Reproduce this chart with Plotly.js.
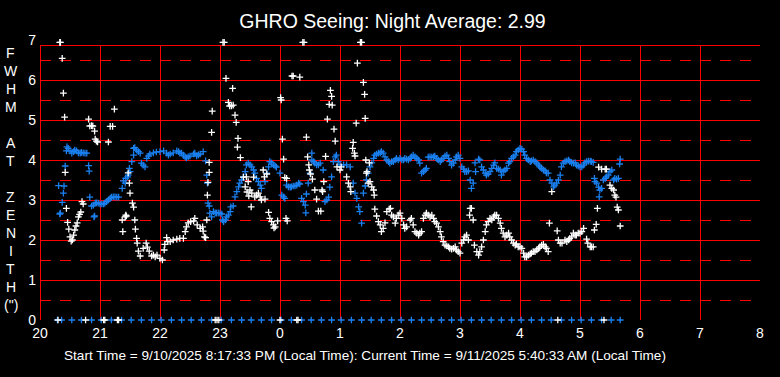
<!DOCTYPE html>
<html>
<head>
<meta charset="utf-8">
<script src="https://cdn.plot.ly/plotly-3.0.1.min.js"></script>
<style>html,body{margin:0;padding:0;background:#000;}#chart{width:780px;height:377px;}
#chart .shapelayer path{shape-rendering:crispEdges;}</style>
</head>
<body>
<div id="chart"></div>
<script>
// Hours since midnight of start day (24+ = next morning)
const hourTicks = [20,21,22,23,24,25,26,27,28,29,30,31,32];
const hourLabels = ['20','21','22','23','0','1','2','3','4','5','6','7','8'];
const yTicks = [0,1,2,3,4,5,6,7];

// White series (FWHM samples)
const whiteTime = [
20.30,20.76,21.06,21.08,21.29,21.31,22.92,22.95,22.98,24.00,24.28,24.30,28.63,29.40,
20.33,20.34,23.05,23.07,24.38,24.40,25.34,25.36,
20.37,20.39,20.41,20.42,20.44,20.46,20.48,20.50,20.52,20.54,20.56,20.58,20.60,20.62,20.64,20.66,20.68,20.70,20.72,
20.81,20.83,20.86,20.88,20.91,20.92,20.94,20.96,21.14,21.17,21.21,21.24,
21.37,21.38,21.42,21.43,21.44,21.47,21.49,21.50,21.54,21.56,21.58,21.59,21.61,21.62,21.64,21.67,
21.72,21.77,21.79,21.82,21.86,21.89,21.92,21.95,22.00,22.04,22.07,22.08,22.11,22.13,22.17,22.22,22.28,22.33,22.39,
22.42,22.44,22.47,22.51,22.56,22.58,22.62,22.67,22.71,22.72,22.74,22.76,22.78,22.79,22.80,22.82,22.82,22.86,22.87,
23.10,23.14,23.16,23.19,23.21,23.22,23.25,23.27,23.29,23.30,23.34,23.39,23.42,23.44,23.45,23.47,23.48,23.50,23.52,23.53,
23.56,23.58,23.61,23.64,23.67,23.69,23.72,23.74,23.75,23.78,23.81,23.83,23.86,23.89,23.90,23.92,23.96,
24.01,24.02,24.04,24.06,24.08,24.10,24.12,24.11,24.20,24.22,24.33,24.44,24.46,24.48,24.49,24.51,24.54,24.58,24.61,24.64,24.68,
24.73,24.70,24.71,24.76,24.79,24.82,24.84,24.86,24.87,24.90,24.92,24.95,25.00,25.02,25.11,25.14,25.17,25.18,
25.21,25.22,25.24,25.25,25.27,25.29,25.39,25.41,25.42,25.43,25.44,25.45,25.47,25.49,25.50,25.53,25.56,25.57,25.58,25.61,25.64,25.67,
25.69,25.72,25.75,25.78,25.82,25.84,25.86,25.89,25.92,25.94,25.97,26.00,26.03,26.06,26.08,26.11,26.17,26.19,26.22,
26.25,26.28,26.31,26.33,26.36,26.39,26.42,26.44,26.47,26.50,26.53,26.56,26.58,26.61,26.64,26.67,26.69,26.72,26.75,26.78,
26.81,26.83,26.86,26.89,26.92,26.94,26.97,27.00,27.03,27.06,27.08,27.11,27.14,27.17,27.19,27.16,27.22,27.24,
27.28,27.31,27.33,27.36,27.39,27.42,27.44,27.47,27.50,27.53,27.56,27.58,27.61,27.64,27.67,27.69,27.72,27.75,27.78,27.81,27.83,27.86,
27.89,27.92,27.94,27.97,28.00,28.03,28.06,28.08,28.11,28.14,28.17,28.19,28.22,28.25,28.28,28.31,28.33,28.36,28.39,28.42,28.44,28.47,
28.49,28.53,28.62,28.64,28.67,28.70,28.75,28.78,28.81,28.83,28.86,28.89,28.92,28.94,28.97,29.00,29.03,29.06,
29.11,29.13,29.17,29.19,29.22,29.24,29.27,29.29,29.31,29.36,29.42,29.44,29.50,29.53,29.56,29.58,29.60,29.62,29.64,29.67
];
const whiteFwhm = [
0,0,0,0,0,0,0,0,0,0,0,0,0,0,
6.94,6.94,6.94,6.94,6.94,6.94,6.94,6.94,
6.54,5.67,5.07,3.69,2.79,2.44,2.27,2.08,1.97,2.00,2.12,2.25,2.35,2.43,2.58,2.64,2.70,2.96,2.90,
5.02,4.85,4.86,4.85,4.72,4.52,4.47,4.45,4.45,4.84,4.84,5.27,
2.50,2.21,2.58,2.62,2.60,3.68,3.42,3.17,2.92,2.82,2.50,2.27,2.04,1.92,1.72,1.60,
1.79,1.92,1.82,1.72,1.60,1.62,1.58,1.62,1.54,1.50,1.75,1.89,2.06,1.96,1.96,2.00,2.02,2.04,2.04,
2.21,2.33,2.43,2.46,2.48,2.54,2.38,2.29,2.33,2.22,2.08,2.06,2.50,3.12,3.44,3.69,3.94,4.69,5.22,
6.04,5.44,5.35,5.35,5.79,5.37,5.12,4.94,4.32,4.54,4.06,3.57,3.33,3.58,3.20,3.46,3.10,3.25,2.83,3.17,
3.57,3.08,3.12,3.17,3.08,3.00,3.75,3.58,3.02,3.65,2.69,2.54,2.46,2.38,2.30,2.33,2.48,
5.56,5.50,4.52,4.02,3.56,2.54,2.48,3.54,6.10,6.10,6.07,4.57,4.08,3.88,3.75,3.65,3.52,3.25,3.02,2.72,2.72,
3.46,3.25,3.21,4.09,5.02,5.39,5.74,5.59,5.37,4.77,4.47,3.83,3.75,3.83,3.58,3.42,3.33,3.21,
4.29,4.44,4.17,4.10,4.92,6.42,5.94,5.64,5.04,4.00,3.67,3.71,3.42,3.93,3.46,3.33,3.25,3.12,2.77,2.60,2.46,2.38,
2.21,2.29,2.43,2.71,2.77,2.79,2.62,2.58,2.42,2.54,2.62,2.67,2.54,2.38,2.29,2.33,2.50,2.54,2.38,
2.21,2.17,2.12,2.17,2.21,2.54,2.62,2.67,2.62,2.58,2.62,2.54,2.46,2.42,2.33,2.21,2.08,1.96,1.87,1.85,
1.83,1.79,1.77,1.79,1.83,1.75,1.71,1.67,1.92,2.00,2.08,2.12,2.00,2.79,2.79,2.62,2.50,1.87,
1.71,1.62,1.71,1.83,2.00,2.21,2.38,2.46,2.54,2.50,2.58,2.62,2.62,2.54,2.42,2.29,2.17,2.08,2.12,2.17,2.08,2.00,
1.92,1.87,1.90,1.83,1.83,1.79,1.67,1.58,1.58,1.62,1.65,1.67,1.71,1.71,1.75,1.79,1.83,1.87,1.89,1.83,1.79,1.71,
2.42,3.21,2.23,2.00,1.92,1.92,2.00,1.96,2.00,2.04,2.08,2.17,2.12,2.12,2.17,2.17,2.21,2.29,
2.02,1.92,1.83,1.83,1.83,2.25,2.39,2.79,3.82,3.77,3.77,3.77,3.37,3.29,3.25,3.12,3.07,2.82,2.75,2.35
];

// Blue series (FWHM samples)
const blueTime = [
20.29,20.36,20.53,20.69,20.86,21.02,21.19,21.36,21.52,21.69,21.86,22.02,22.19,22.36,22.52,22.69,22.86,23.02,23.19,23.36,
23.52,23.69,23.86,24.02,24.19,24.36,24.52,24.69,24.86,25.02,25.19,25.36,25.52,25.69,25.86,26.02,26.19,26.36,26.52,26.69,
26.86,27.02,27.19,27.36,27.52,27.69,27.86,28.02,28.19,28.36,28.52,28.69,28.86,29.02,29.19,29.36,29.52,29.67,
20.31,20.33,20.34,20.37,20.39,20.40,20.42,20.44,20.45,20.47,20.50,20.53,20.56,20.58,20.61,20.64,20.67,20.69,20.72,20.75,20.78,
20.81,20.82,20.83,20.86,20.89,20.90,20.91,20.92,20.94,20.97,21.00,21.03,21.06,21.08,21.11,21.14,21.17,21.19,21.22,21.25,21.28,21.31,
21.37,21.39,21.42,21.43,21.46,21.47,21.50,21.49,21.53,21.56,21.56,21.58,21.61,21.64,21.67,21.69,21.72,21.75,
21.78,21.81,21.83,21.89,21.94,22.00,22.06,22.11,22.14,22.17,22.22,22.28,22.31,22.33,22.36,22.39,22.42,22.44,22.47,22.50,22.56,22.58,22.61,22.64,22.67,22.72,
22.76,22.78,22.79,22.80,22.82,22.83,22.86,22.89,22.92,22.94,22.97,23.00,23.03,23.04,23.06,23.09,23.11,23.14,23.17,23.18,
23.22,23.25,23.28,23.31,23.33,23.36,23.39,23.42,23.44,23.47,23.50,23.53,23.56,23.58,23.61,23.64,23.67,23.69,
23.75,23.78,23.81,23.83,23.86,23.89,23.92,23.94,24.00,24.03,24.06,24.08,24.11,24.14,24.17,24.19,24.22,24.25,24.28,24.31,24.33,
24.36,24.39,24.42,24.43,24.44,24.47,24.50,24.53,24.53,24.56,24.58,24.61,24.64,24.67,24.72,24.75,24.78,24.81,24.83,24.86,24.89,24.92,24.94,24.97,
25.00,25.06,25.11,25.17,25.22,25.25,25.28,25.31,25.33,25.36,25.39,25.42,25.44,25.47,25.50,25.53,25.56,25.58,25.61,25.64,25.67,
25.69,25.72,25.75,25.78,25.81,25.83,25.86,25.89,25.92,25.94,25.97,26.00,26.03,26.06,26.08,26.11,26.14,26.17,26.19,26.22,26.25,26.28,26.31,26.33,
26.36,26.39,26.42,26.44,26.47,26.50,26.53,26.56,26.58,26.61,26.64,26.67,26.69,26.72,26.75,26.78,26.81,26.83,26.86,26.89,26.92,26.94,26.97,27.00,
27.03,27.06,27.08,27.11,27.14,27.17,27.19,27.22,27.25,27.26,27.31,27.33,27.36,27.39,27.42,27.44,27.47,27.50,27.53,27.56,27.58,
27.61,27.64,27.67,27.69,27.72,27.75,27.78,27.81,27.83,27.86,27.89,27.92,27.94,27.97,28.00,28.03,28.06,28.08,28.11,28.14,28.17,28.19,
28.22,28.25,28.28,28.31,28.33,28.36,28.39,28.42,28.44,28.47,28.50,28.53,28.56,28.58,28.61,28.64,28.67,
28.69,28.72,28.75,28.78,28.81,28.83,28.86,28.89,28.92,28.94,28.97,29.00,29.03,29.06,29.08,29.11,29.14,29.17,29.19,29.22,
29.24,29.25,29.28,29.31,29.33,29.36,29.32,29.39,29.42,29.44,29.47,29.50,29.53,29.56,29.58,29.61,29.64,29.67,29.66
];
const blueFwhm = [
0,0,0,0,0,0,0,0,0,0,0,0,0,0,0,0,0,0,0,0,
0,0,0,0,0,0,0,0,0,0,0,0,0,0,0,0,0,0,0,0,
0,0,0,0,0,0,0,0,0,0,0,0,0,0,0,0,0,0,
3.36,2.65,2.67,2.94,3.17,3.35,3.85,4.23,4.33,4.29,4.23,4.17,4.21,4.25,4.23,4.18,4.17,4.19,4.18,4.17,4.17,
3.86,3.72,3.07,2.85,2.87,2.58,2.60,2.92,2.93,2.92,2.90,2.90,2.90,2.92,2.96,3.00,3.04,3.07,3.08,3.08,3.07,3.07,
3.29,3.48,3.42,3.54,3.58,3.62,3.71,3.79,3.96,4.12,4.29,4.31,4.25,4.21,4.17,3.92,3.87,3.83,
4.04,4.10,4.15,4.18,4.20,4.21,4.23,4.17,4.12,4.15,4.18,4.23,4.21,4.17,4.17,4.12,4.08,4.05,4.08,4.10,4.15,4.17,4.10,4.13,4.15,4.21,
3.98,3.62,3.42,2.92,2.85,2.67,2.58,2.71,2.68,2.67,2.68,2.67,2.65,2.50,2.46,2.50,2.58,2.62,2.71,2.83,
2.85,3.08,3.21,3.33,3.42,3.50,3.58,3.71,3.88,3.92,3.88,3.83,3.75,3.67,3.54,3.46,3.37,3.29,
3.46,3.67,3.83,3.96,3.93,3.88,3.85,3.82,3.67,3.12,3.08,3.04,3.37,3.33,3.32,3.33,3.35,3.35,3.37,3.42,3.40,
3.04,2.96,2.87,2.68,3.15,3.42,3.67,4.17,4.00,3.96,3.92,3.88,3.88,3.92,3.75,2.96,3.00,3.07,3.32,3.58,3.96,4.08,4.12,3.96,
3.88,3.88,3.88,3.83,3.42,3.17,3.04,2.83,2.71,2.42,3.17,3.35,3.50,3.67,3.83,3.93,4.04,4.12,4.15,4.17,4.18,
4.21,4.17,4.08,4.00,3.96,3.92,3.96,3.96,4.00,4.04,4.00,4.04,4.00,4.00,4.04,4.02,4.00,4.04,4.08,4.12,4.08,4.04,4.00,3.92,
3.67,3.71,3.75,3.79,4.07,4.08,4.07,4.08,4.10,4.04,4.00,3.96,4.00,4.04,4.10,4.12,4.04,3.96,3.87,3.92,4.00,4.08,4.12,4.04,
3.83,3.77,3.71,3.71,3.73,3.50,3.29,3.42,3.93,3.71,4.02,4.00,3.83,3.75,3.67,3.62,3.65,3.71,3.79,3.87,3.93,
3.79,3.77,3.75,3.62,3.71,3.75,3.79,3.92,3.96,4.04,4.08,4.12,4.21,4.25,4.29,4.27,4.21,4.12,4.04,4.00,3.96,3.98,
4.00,3.96,3.92,3.87,3.83,3.79,3.75,3.73,3.68,3.67,3.50,3.42,3.33,3.37,3.42,3.50,3.62,
3.83,3.92,3.96,3.98,4.00,3.96,3.93,3.92,3.93,3.87,3.85,3.83,3.83,3.87,3.93,3.96,3.97,3.97,3.96,3.94,
3.54,3.46,3.42,3.32,3.25,3.29,3.08,3.50,3.54,3.58,3.62,3.71,3.75,3.50,3.54,3.52,3.54,4.02,3.90
];

const titleText = 'GHRO Seeing: Night Average: 2.99';
const yLabelLetters = ['F','W','H','M','','A','T','','Z','E','N','I','T','H','(")'];
const footerText = 'Start Time = 9/10/2025 8:17:33 PM (Local Time): Current Time = 9/11/2025 5:40:33 AM (Local Time)';

const RED = '#ff0000';
const FONT = 'Liberation Sans, Arial, sans-serif';
const TOP = 6.875;

const shapes = [];
// half-unit dashed lines
for (let v = 0.5; v < 7; v += 1) {
  shapes.push({type:'line', xref:'x', yref:'y', x0:20, x1:32, y0:v, y1:v, layer:'below',
    line:{color:RED, width:1, dash:'11px,9px'}});
}
// integer solid lines
for (let v = 1; v <= 6; v++) {
  shapes.push({type:'line', xref:'x', yref:'y', x0:20, x1:32, y0:v, y1:v, layer:'below',
    line:{color:RED, width:1}});
}
for (let h = 21; h <= 31; h++) {
  shapes.push({type:'line', xref:'x', yref:'y', x0:h, x1:h, y0:0, y1:TOP, layer:'below',
    line:{color:RED, width:1}});
}
shapes.push({type:'rect', xref:'x', yref:'y', x0:20, x1:32, y0:0, y1:TOP, layer:'below',
  line:{color:RED, width:1}});

const annotations = [];
yLabelLetters.forEach((ch, i) => {
  if (!ch) return;
  annotations.push({xref:'paper', yref:'paper', x:(11-40)/720, y:(320-(53+18*i))/280,
    xanchor:'center', yanchor:'middle', showarrow:false, text:ch,
    font:{family:FONT, size:14, color:'#ffffff'}});
});
annotations.push({xref:'paper', yref:'paper', x:(62-40)/720, y:(320-355)/280,
  xanchor:'left', yanchor:'middle', showarrow:false, text:footerText,
  font:{family:FONT, size:13.6, color:'#ffffff'}});

const markerBase = {symbol:'cross-thin-open', size:4.8};
const traces = [
  {x:blueTime, y:blueFwhm, type:'scatter', mode:'markers', cliponaxis:false, hoverinfo:'skip',
   marker:Object.assign({}, markerBase, {color:'#1a80f0', line:{color:'#1a80f0', width:1.3}})},
  {x:whiteTime, y:whiteFwhm, type:'scatter', mode:'markers', cliponaxis:false, hoverinfo:'skip',
   marker:Object.assign({}, markerBase, {color:'#ffffff', line:{color:'#ffffff', width:1.3}})}
];

const layout = {
  width:780, height:377,
  paper_bgcolor:'#000000', plot_bgcolor:'#000000',
  margin:{l:40, r:20, t:40, b:57, pad:0},
  showlegend:false,
  title:{text:titleText, x:392.5/780, xref:'container', xanchor:'center', y:1-21/377, yref:'container', yanchor:'middle',
    font:{family:FONT, size:19.5, color:'#ffffff'}},
  xaxis:{range:[20,32], tickvals:hourTicks, ticktext:hourLabels, showgrid:false, zeroline:false, showline:false,
    ticks:'', ticklabelstandoff:3, tickfont:{family:FONT, size:14, color:'#ffffff'}, fixedrange:true},
  yaxis:{range:[0,7], tickvals:yTicks, ticktext:yTicks.map(String), showgrid:false, zeroline:false, showline:false,
    ticks:'', ticklabelstandoff:3, tickfont:{family:FONT, size:14, color:'#ffffff'}, fixedrange:true},
  shapes:shapes,
  annotations:annotations
};

Plotly.newPlot('chart', traces, layout, {staticPlot:true, displayModeBar:false});
</script>
</body>
</html>
